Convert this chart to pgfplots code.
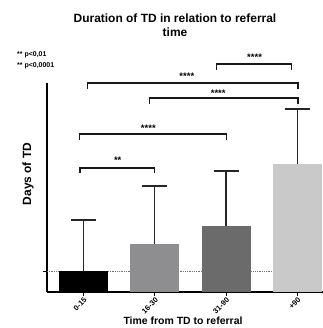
\documentclass[border=0pt]{standalone}
\usepackage{fontspec}
\setmainfont{Liberation Sans}
\usepackage{pgfplots}
\pgfplotsset{compat=1.18}
\definecolor{cA}{HTML}{000000}
\definecolor{cB}{HTML}{8E8E91}
\definecolor{cC}{HTML}{6B6B6B}
\definecolor{cD}{HTML}{C9C9C9}
\begin{document}
\begin{tikzpicture}
\path[use as bounding box] (0,0) rectangle (323bp,-328bp);
\node[font=\bfseries\fontsize{12}{14.5}\selectfont, align=center] at (175bp,-25bp) {Duration of TD in relation to referral\\time};
\node[font=\bfseries\fontsize{7}{8}\selectfont, anchor=west, inner sep=0pt] at (17bp,-55bp) {** p<0,01};
\node[font=\bfseries\fontsize{7}{8}\selectfont, anchor=west, inner sep=0pt] at (17bp,-66bp) {** p<0,0001};
\node[font=\bfseries\fontsize{12}{14}\selectfont, rotate=90] at (28bp,-174bp) {Days of TD};
\node[font=\bfseries\fontsize{10.5}{12}\selectfont] at (183bp,-321bp) {Time from TD to referral};
\begin{axis}[
  at={(47bp,-292bp)}, anchor=south west,
  scale only axis, width=276bp, height=209bp,
  xmin=-0.512, xmax=3.36, ymin=0, ymax=209,
  axis x line=bottom, axis y line=left,
  axis line style={-, line width=1.2pt},
  clip=false,
  xtick={0,1,2,3}, xticklabels={0-15,16-30,31-90,+90},
  xticklabel style={rotate=45, anchor=north east, font=\bfseries\fontsize{7.5}{8}\selectfont, inner sep=0.5pt},
  ytick={21}, yticklabels={},
  tick align=outside, major tick length=4bp,
  tick style={line width=1pt, black},
  /pgf/number format/assume math mode=true,
]
\addplot[densely dotted, black!55, line width=0.8pt] coordinates {(-0.512,21) (3.36,21)};
\addplot[ybar, bar width=49bp, bar shift=0pt, fill=cA, draw=none,
  error bars/.cd, y dir=plus, y explicit,
  error bar style={line width=1.2pt, color=black!85},
  error mark options={rotate=90, mark size=12.5bp, line width=1.2pt, color=black!85}]
  coordinates {(0,21) +- (0,51)};
\addplot[ybar, bar width=49bp, bar shift=0pt, fill=cB, draw=none,
  error bars/.cd, y dir=plus, y explicit,
  error bar style={line width=1.2pt, color=black!85},
  error mark options={rotate=90, mark size=12.5bp, line width=1.2pt, color=black!85}]
  coordinates {(1,48) +- (0,58)};
\addplot[ybar, bar width=49bp, bar shift=0pt, fill=cC, draw=none,
  error bars/.cd, y dir=plus, y explicit,
  error bar style={line width=1.2pt, color=black!85},
  error mark options={rotate=90, mark size=12.5bp, line width=1.2pt, color=black!85}]
  coordinates {(2,66) +- (0,55)};
\addplot[ybar, bar width=49bp, bar shift=0pt, fill=cD, draw=none,
  error bars/.cd, y dir=plus, y explicit,
  error bar style={line width=1.2pt, color=black!85},
  error mark options={rotate=90, mark size=12.5bp, line width=1.2pt, color=black!85}]
  coordinates {(3,128) +- (0,55)};
% significance brackets
\addplot[black!90, line width=1.3pt] coordinates {(-0.05,119) (-0.05,124) (1.00,124) (1.00,119)};
\addplot[black!90, line width=1.3pt] coordinates {(-0.06,152) (-0.06,158) (2.01,158) (2.01,152)};
\addplot[black!90, line width=1.3pt] coordinates {(0.93,188) (0.93,194) (3.01,194) (3.01,188)};
\addplot[black!90, line width=1.3pt] coordinates {(0.06,203) (0.06,209) (3.01,209) (3.01,203)};
\addplot[black!90, line width=1.3pt] coordinates {(1.87,222) (1.87,228) (2.92,228) (2.92,222)};
\node[font=\bfseries\fontsize{9.5}{10}\selectfont, anchor=base] at (axis cs:0.48,129) {**};
\node[font=\bfseries\fontsize{9.5}{10}\selectfont, anchor=base] at (axis cs:0.91,161) {****};
\node[font=\bfseries\fontsize{9.5}{10}\selectfont, anchor=base] at (axis cs:1.89,196) {****};
\node[font=\bfseries\fontsize{9.5}{10}\selectfont, anchor=base] at (axis cs:1.45,213) {****};
\node[font=\bfseries\fontsize{9.5}{10}\selectfont, anchor=base] at (axis cs:2.40,232) {****};
\end{axis}
\end{tikzpicture}
\end{document}
